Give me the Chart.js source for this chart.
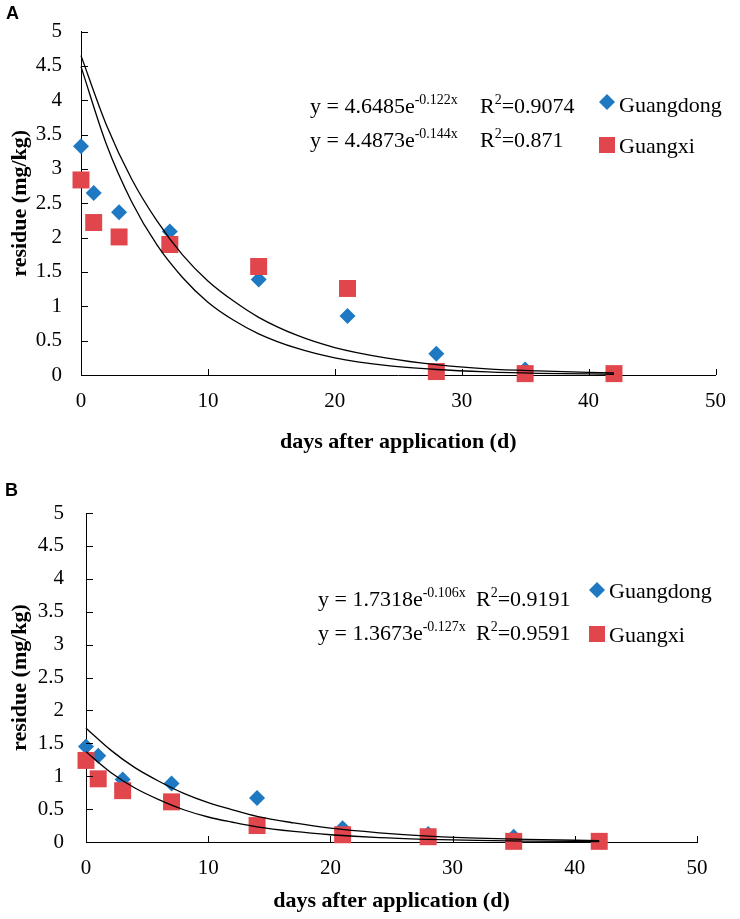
<!DOCTYPE html>
<html>
<head>
<meta charset="utf-8">
<script src="https://cdn.jsdelivr.net/npm/chart.js@4.4.0/dist/chart.umd.min.js"></script>
<style>
  html, body { margin: 0; padding: 0; background: #fff; }
  #wrap { position: relative; width: 740px; height: 919px; }
  canvas { position: absolute; left: 0; }
  #chartA { top: 0; }
  #chartB { top: 460px; }
</style>
</head>
<body>
<div id="wrap">
  <canvas id="chartA" width="740" height="460"></canvas>
  <canvas id="chartB" width="740" height="459"></canvas>
</div>
<script>
"use strict";

// sampling days
const days = [0, 1, 3, 7, 14, 21, 28, 35, 42];
const seriesNames = ["Guangdong", "Guangxi"];

// panel A residues (mg/kg)
const aGuangdong = [3.33, 2.65, 2.37, 2.09, 1.39, 0.86, 0.31, 0.08, 0.02];
const aGuangxi = [2.84, 2.22, 2.01, 1.9, 1.58, 1.26, 0.05, 0.02, 0.02];

// panel B residues (mg/kg)
const bGuangdong = [1.45, 1.31, 0.95, 0.89, 0.67, 0.21, 0.12, 0.08, 0.02];
const bGuangxi = [1.24, 0.96, 0.78, 0.61, 0.25, 0.11, 0.08, 0.01, 0.01];

// trend curves
const fitDays = [0, 2, 4, 6, 8, 10, 12, 14, 17, 20, 24, 28, 32, 36, 42];
const aFitGuangdong = [4.65, 3.64, 2.85, 2.24, 1.75, 1.37, 1.08, 0.84, 0.58, 0.4, 0.25, 0.15, 0.09, 0.06, 0.03];
const aFitGuangxi = [4.49, 3.36, 2.52, 1.89, 1.42, 1.06, 0.8, 0.6, 0.39, 0.25, 0.14, 0.08, 0.045, 0.025, 0.011];
const bFitGuangdong = [1.73, 1.4, 1.13, 0.92, 0.74, 0.6, 0.49, 0.39, 0.29, 0.21, 0.14, 0.09, 0.06, 0.04, 0.02];
const bFitGuangxi = [1.37, 1.06, 0.82, 0.64, 0.49, 0.38, 0.3, 0.23, 0.16, 0.11, 0.065, 0.04, 0.024, 0.014, 0.007];

// equation labels: [base, exponent, R² value]
const aEquations = [
  ["y = 4.6485e", "-0.122x", "=0.9074"],
  ["y = 4.4873e", "-0.144x", "=0.871"],
];
const bEquations = [
  ["y = 1.7318e", "-0.106x", "=0.9191"],
  ["y = 1.3673e", "-0.127x", "=0.9591"],
];

const xTickStep = 10;
const yTickStep = 0.5;
const xLabel = "days after application (d)";
const yLabel = "residue (mg/kg)";

const blue = "#1f79c2";
const red = "#e0464b";
const serif = "'Liberation Serif', 'Times New Roman', serif";

const pts = (xs, ys) => xs.map((x, i) => ({ x: x, y: ys[i] }));

// tick marks pointing into the plot
const insideTicks = {
  id: "insideTicks",
  afterDraw(chart) {
    const { ctx, scales } = chart;
    const x = scales.x;
    const y = scales.y;
    ctx.save();
    ctx.strokeStyle = "#000";
    ctx.lineWidth = 1;
    ctx.beginPath();
    x.ticks.forEach((t) => {
      const px = Math.round(x.getPixelForValue(t.value)) + 0.5;
      ctx.moveTo(px, x.top);
      ctx.lineTo(px, x.top - 6);
    });
    y.ticks.forEach((t) => {
      const py = Math.round(y.getPixelForValue(t.value)) + 0.5;
      ctx.moveTo(y.right, py);
      ctx.lineTo(y.right + 7, py);
    });
    ctx.stroke();
    ctx.restore();
  },
};

// panel letter, equations and legend
const decor = {
  id: "decor",
  afterDraw(chart, args, o) {
    const ctx = chart.ctx;
    ctx.save();
    ctx.fillStyle = "#000";
    ctx.textBaseline = "top";
    ctx.font = "bold 18px 'Liberation Sans', Arial, sans-serif";
    ctx.fillText(o.letter, o.letterX, o.letterY);

    ctx.textBaseline = "alphabetic";
    o.equations.forEach((eq, i) => {
      const base = o.eqBase[i];
      ctx.font = "22px " + serif;
      ctx.fillText(eq[0], o.eqX, base);
      let cx = o.eqX + ctx.measureText(eq[0]).width;
      ctx.font = "14px " + serif;
      ctx.fillText(eq[1], cx, base - 9);
      cx = o.rX;
      ctx.font = "22px " + serif;
      ctx.fillText("R", cx, base);
      cx += ctx.measureText("R").width;
      ctx.font = "14px " + serif;
      ctx.fillText("2", cx, base - 9);
      cx += ctx.measureText("2").width;
      ctx.font = "22px " + serif;
      ctx.fillText(eq[2], cx, base);
    });

    ctx.font = "22px " + serif;
    seriesNames.forEach((name, i) => {
      const cy = o.legY[i];
      const mx = o.legX;
      ctx.fillStyle = i === 0 ? blue : red;
      ctx.beginPath();
      if (i === 0) {
        ctx.moveTo(mx, cy - 8);
        ctx.lineTo(mx + 8, cy);
        ctx.lineTo(mx, cy + 8);
        ctx.lineTo(mx - 8, cy);
        ctx.closePath();
      } else {
        ctx.rect(mx - 8, cy - 8, 16, 16);
      }
      ctx.fill();
      ctx.fillStyle = "#000";
      ctx.fillText(name, mx + 12, o.legBase[i]);
    });
    ctx.restore();
  },
};

function makeChart(id, gd, gx, fitGd, fitGx, layout) {
  return new Chart(document.getElementById(id), {
    type: "scatter",
    data: {
      datasets: [
        {
          label: "fit " + seriesNames[0],
          data: pts(fitDays, fitGd),
          showLine: true,
          borderColor: "#000",
          borderWidth: 1.3,
          pointRadius: 0,
          cubicInterpolationMode: "monotone",
          clip: false,
          order: 0,
        },
        {
          label: "fit " + seriesNames[1],
          data: pts(fitDays, fitGx),
          showLine: true,
          borderColor: "#000",
          borderWidth: 1.3,
          pointRadius: 0,
          cubicInterpolationMode: "monotone",
          clip: false,
          order: 0,
        },
        {
          label: seriesNames[1],
          data: pts(days, gx),
          pointStyle: "rect",
          pointRadius: 12,
          backgroundColor: red,
          borderWidth: 0,
          clip: false,
          order: 1,
        },
        {
          label: seriesNames[0],
          data: pts(days, gd),
          pointStyle: "rectRot",
          pointRadius: 8,
          backgroundColor: blue,
          borderWidth: 0,
          clip: false,
          order: 2,
        },
      ],
    },
    options: {
      responsive: false,
      animation: false,
      events: [],
      layout: { padding: { top: layout.top, right: layout.right, left: 0, bottom: 0 } },
      scales: {
        x: {
          type: "linear",
          min: 0,
          max: 50,
          ticks: {
            stepSize: xTickStep,
            padding: layout.xPad,
            maxRotation: 0,
            color: "#000",
            font: { family: serif, size: 21 },
          },
          grid: { display: false, drawTicks: false },
          border: { display: true, color: "#000", width: 1 },
          title: {
            display: true,
            text: xLabel,
            color: "#000",
            font: { family: serif, size: 22, weight: "bold" },
            padding: { top: 0, bottom: 4 },
          },
          afterFit(s) {
            s.height = layout.xHeight;
          },
        },
        y: {
          min: 0,
          max: 5,
          ticks: {
            stepSize: yTickStep,
            padding: layout.yPad,
            color: "#000",
            font: { family: serif, size: 21 },
            callback: (v) => String(Number(v.toFixed(1))),
          },
          grid: { display: false, drawTicks: false },
          border: { display: true, color: "#000", width: 1 },
          title: {
            display: true,
            text: yLabel,
            color: "#000",
            font: { family: serif, size: 22, weight: "bold" },
            padding: { top: 7, bottom: 0 },
          },
          afterFit(s) {
            s.width = layout.yWidth;
          },
        },
      },
      plugins: {
        legend: { display: false },
        tooltip: { enabled: false },
        decor: layout.decor,
      },
    },
    plugins: [insideTicks, decor],
  });
}

makeChart("chartA", aGuangdong, aGuangxi, aFitGuangdong, aFitGuangxi, {
  top: 23,
  right: 18,
  xHeight: 85,
  yWidth: 81,
  xPad: 14,
  yPad: 19,
  decor: {
    letter: "A",
    letterX: 6,
    letterY: 5,
    equations: aEquations,
    eqX: 310,
    eqBase: [113, 147],
    rX: 480,
    legX: 607,
    legY: [102, 145],
    legBase: [112, 153],
  },
});

makeChart("chartB", bGuangdong, bGuangxi, bFitGuangdong, bFitGuangxi, {
  top: 53,
  right: 43,
  xHeight: 77,
  yWidth: 86,
  xPad: 14,
  yPad: 22,
  decor: {
    letter: "B",
    letterX: 5,
    letterY: 22,
    equations: bEquations,
    eqX: 318,
    eqBase: [146, 180],
    rX: 476,
    legX: 597,
    legY: [130, 174],
    legBase: [138, 182],
  },
});
</script>
</body>
</html>
